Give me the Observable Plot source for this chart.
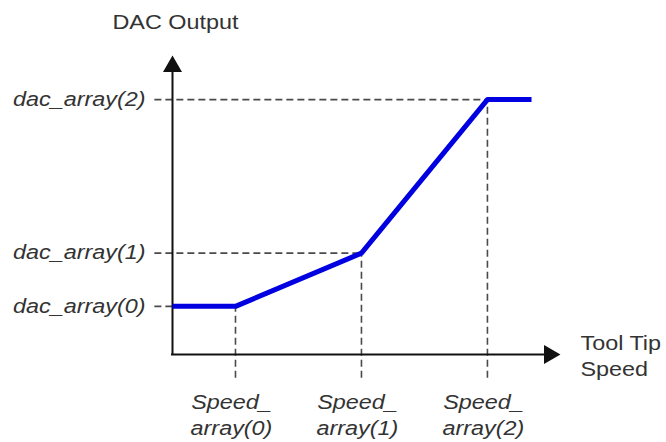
<!DOCTYPE html>
<html>
<head>
<meta charset="utf-8">
<script src="https://cdn.jsdelivr.net/npm/d3@7"></script>
<script src="https://cdn.jsdelivr.net/npm/@observablehq/plot@0.6"></script>
<style>
  html, body { margin: 0; padding: 0; background: #fff; }
  #chart svg { display: block; }
</style>
</head>
<body>
<div id="chart"></div>
<script>
// ---- data (arbitrary units) ----
const speedArray = [0.5, 1.5, 2.5];          // Speed_array(0..2)
const dacArray   = [0.95, 2, 5.03];          // dac_array(0..2)
const lineStartX = 0;                        // line starts at the y axis
const lineEndX   = 2.85;                     // line continues flat past Speed_array(2)
const dacLabels   = ["dac_array(0)", "dac_array(1)", "dac_array(2)"];
const speedLabels = ["Speed_\narray(0)", "Speed_\narray(1)", "Speed_\narray(2)"];
const yTitle = "DAC Output";
const xTitle = "Tool Tip\nSpeed";

const xMax = 3.08, yMax = 5.9;

const curve = [
  {x: lineStartX, y: dacArray[0]},
  ...speedArray.map((s, i) => ({x: s, y: dacArray[i]})),
  {x: lineEndX, y: dacArray[dacArray.length - 1]}
];
const pts = speedArray.map((s, i) => ({x: s, y: dacArray[i], dl: dacLabels[i], sl: speedLabels[i]}));

const font = "Liberation Sans, Arial, Helvetica, sans-serif";
const txt = "#333";
const dash = "#4a4a4a";

const chart = Plot.plot({
  width: 666,
  height: 442,
  marginLeft: 172,
  marginRight: 106,
  marginTop: 55,
  marginBottom: 88,
  x: {domain: [0, xMax], axis: null},
  y: {domain: [0, yMax], axis: null},
  style: {fontFamily: font, background: "#fff"},
  marks: [
    // dashed guide lines
    Plot.ruleY(pts, {y: "y", x1: -0.14, x2: "x", stroke: dash, strokeWidth: 1.6, strokeDasharray: "7,4", clip: false}),
    Plot.ruleX(pts, {x: "x", y1: -0.47, y2: "y", stroke: dash, strokeWidth: 1.6, strokeDasharray: "7,4", clip: false}),
    // axes
    Plot.ruleX([0], {y1: 0, y2: yMax - 0.3, stroke: "#111", strokeWidth: 2}),
    Plot.ruleY([0], {x1: -0.008, x2: xMax - 0.12, stroke: "#111", strokeWidth: 2}),
    Plot.dot([0], {x: 0, y: yMax, dy: 11, symbol: "triangle", r: 7.05, fill: "#111", stroke: "none"}),
    Plot.dot([0], {x: xMax, y: 0, dx: -11, symbol: "triangle", r: 7.05, rotate: 90, fill: "#111", stroke: "none"}),
    // response curve
    Plot.line(curve, {x: "x", y: "y", stroke: "#0000e0", strokeWidth: 5, strokeLinejoin: "round", strokeLinecap: "butt"}),
    // labels
    Plot.text(pts, {x: 0, y: "y", text: "dl", dx: -27, textAnchor: "end", fontStyle: "italic", fontSize: 19.5, fill: txt}),
    Plot.text(pts, {x: "x", y: 0, text: "sl", dx: -4, dy: 59, textAnchor: "middle", lineHeight: 1.33, fontStyle: "italic", fontSize: 19.5, fill: txt}),
    Plot.text([xTitle], {x: xMax, y: 0, text: d => d, dx: 20, textAnchor: "start", lineHeight: 1.33, fontSize: 19.5, fill: txt}),
    Plot.text([yTitle], {x: 0, y: yMax, text: d => d, dx: 3, dy: -33, textAnchor: "middle", fontSize: 19.5, fill: txt})
  ]
});

document.getElementById("chart").appendChild(chart);

// widen glyphs horizontally (reference text is horizontally stretched)
d3.select(chart).selectAll("text").each(function() {
  const tr = this.getAttribute("transform") || "";
  const x = +(this.getAttribute("x") || 0);
  this.setAttribute("transform", `${tr} translate(${x},0) scale(1.2,1) translate(${-x},0)`);
});
</script>
</body>
</html>
